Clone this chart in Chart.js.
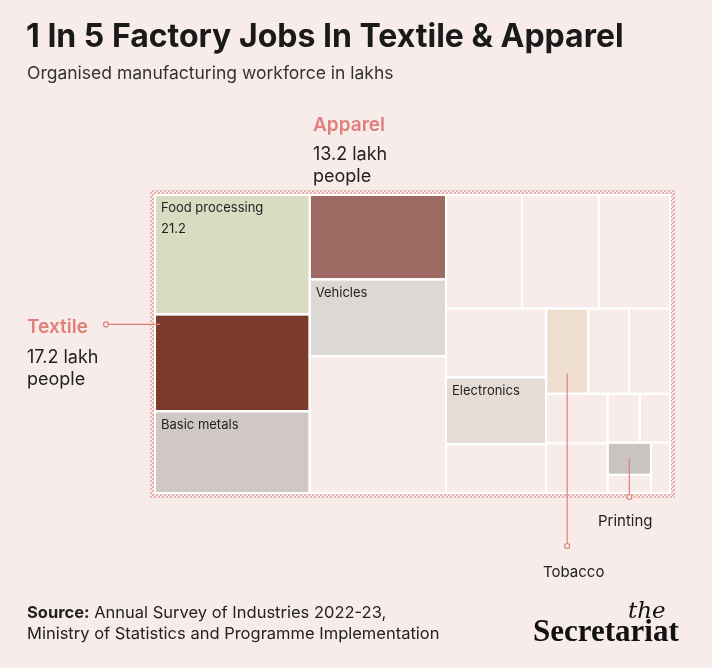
<!DOCTYPE html>
<html><head><meta charset="utf-8">
<script src="https://cdn.jsdelivr.net/npm/chart.js@4"></script>
<style>
html,body{margin:0;padding:0;background:#f8ecea;}
#wrap{position:relative;width:712px;height:668px;font-family:Inter,"Open Sans",sans-serif;color:#1a1a1a;}
.t{position:absolute;white-space:nowrap;}
canvas{position:absolute;left:0;top:0;}
</style></head><body>
<div id="wrap">
<canvas id="c" width="712" height="668"></canvas>
<div class="t" style="left:26px;top:16px;font-size:32px;font-weight:700;letter-spacing:0px;">1 In 5 Factory Jobs In Textile &amp; Apparel</div>
<div class="t" style="left:27px;top:62px;font-size:17.5px;color:#333;">Organised manufacturing workforce in lakhs</div>
<div class="t" style="left:313px;top:113px;font-size:19px;font-weight:600;color:#e0807a;">Apparel</div>
<div class="t" style="left:313px;top:143px;font-size:18px;line-height:22px;color:#222;">13.2 lakh<br>people</div>
<div class="t" style="left:27px;top:315px;font-size:19px;font-weight:600;color:#e0807a;">Textile</div>
<div class="t" style="left:27px;top:346px;font-size:18px;line-height:22px;color:#222;">17.2 lakh<br>people</div>
<div class="t" style="left:543px;top:562px;font-size:15px;color:#222;">Tobacco</div>
<div class="t" style="left:598px;top:511px;font-size:15px;color:#222;">Printing</div>
<div class="t" style="left:27px;top:602px;font-size:16.5px;line-height:21px;color:#222;"><b>Source:</b> Annual Survey of Industries 2022-23,<br>Ministry of Statistics and Programme Implementation</div>
<div class="t" style="left:628px;top:597px;font-family:'DejaVu Serif','Liberation Serif',serif;font-style:italic;font-size:23px;color:#111;">the</div>
<div class="t" style="left:533px;top:613px;font-family:'Liberation Serif','DejaVu Serif',serif;font-weight:bold;font-size:31px;color:#111;">Secretariat</div>
</div>
<script>
// industries (lakh workers); "" = other unlabelled industries
const names  = ["Food processing","Textile","Basic metals","Apparel","Vehicles","","","","","","Electronics","","Tobacco","","","","","","","Printing","",""];
const values = [21.2,17.2,14.5,13.2,12.0,21.4,9.9,10.0,9.3,7.9,7.7,5.6,4.1,4.0,4.0,3.5,3.5,1.8,1.7,1.6,0.9,1.1];
const showValue = [true,false,false,false,false,false,false,false,false,false,false,false,false,false,false,false,false,false,false,false,false,false];
const fills  = ["#d9dcc0","#7a3a2c","#cfc8c5","#9c6a62","#dcd8d6","#f8ecea","#f8ecea","#f8ecea","#f8ecea","#f8ecea","#e6dcd6","#f8ecea","#efdfce","#f8ecea","#f8ecea","#f8ecea","#f8ecea","#f8ecea","#f8ecea","#c9c4c2","#f8ecea","#f8ecea"];
// nesting: h = side by side, v = stacked; leaves are indices into values
const tree = {d:"h",c:[
  {d:"v",c:[0,1,2]},
  {d:"v",c:[3,4,5]},
  {d:"v",c:[
    {d:"h",c:[6,7,8]},
    {d:"h",c:[
      {d:"v",c:[9,10,11]},
      {d:"v",c:[
        {d:"h",c:[12,13,14]},
        {d:"h",c:[
          {d:"v",c:[15,16]},
          {d:"v",c:[
            {d:"h",c:[17,18]},
            {d:"h",c:[{d:"v",c:[19,20]},21]}
          ]}
        ]}
      ]}
    ]}
  ]}
]};
function sum(n){return typeof n==="number"?values[n]:n.c.reduce((a,b)=>a+sum(b),0);}
function layout(n,x0,y0,x1,y1,out){
  if(typeof n==="number"){out[n]=[x0,y0,x1,y1];return;}
  const tot=sum(n);let p=n.d==="h"?x0:y0;
  n.c.forEach(ch=>{const f=sum(ch)/tot;
    if(n.d==="h"){const q=p+(x1-x0)*f;layout(ch,p,y0,q,y1,out);p=q;}
    else{const q=p+(y1-y0)*f;layout(ch,x0,p,x1,q,out);p=q;}});
}
const rects=[];layout(tree,0,0,1,1,rects);

const treemapPlugin={id:"tm",afterDatasetsDraw(chart){
  const {ctx,scales:{x,y}}=chart;
  const X=v=>x.getPixelForValue(v),Y=v=>y.getPixelForValue(v);
  ctx.save();
  rects.forEach((r,i)=>{
    const a=X(r[0])+1,b=Y(r[1])+1,w=X(r[2])-X(r[0])-2,h=Y(r[3])-Y(r[1])-2;
    ctx.fillStyle=fills[i];ctx.fillRect(a,b,w,h);
    ctx.strokeStyle="#ffffff";ctx.lineWidth=2;ctx.strokeRect(a-1,b-1,w+2,h+2);
    if(names[i]&&names[i]!=="Tobacco"&&names[i]!=="Printing"&&names[i]!=="Textile"&&names[i]!=="Apparel"){
      ctx.fillStyle="#1f1f1f";ctx.font="13px Inter, sans-serif";ctx.textBaseline="top";
      ctx.fillText(names[i],a+5,b+6);
      if(showValue[i])ctx.fillText(String(values[i]),a+5,b+27);
    }
  });
  // hatched outer frame
  const L=X(0)-3,T=Y(0)-3,R=X(1)+3,B=Y(1)+3;
  const pc=document.createElement("canvas");pc.width=4;pc.height=4;
  const p=pc.getContext("2d");p.strokeStyle="#e49590";p.lineWidth=1.2;
  p.beginPath();p.moveTo(0,4);p.lineTo(4,0);p.stroke();
  ctx.strokeStyle=ctx.createPattern(pc,"repeat");ctx.lineWidth=4;
  ctx.strokeRect(L,T,R-L,B-T);
  // callouts
  ctx.strokeStyle="#e0807a";ctx.fillStyle="#f8ecea";ctx.lineWidth=1.2;
  const t=rects[1],tb=rects[12],pr=rects[19];
  const ty=Y(t[1])+10;
  ctx.beginPath();ctx.moveTo(108,ty);ctx.lineTo(X(t[0])+5,ty);ctx.stroke();
  ctx.beginPath();ctx.arc(106,ty,2.5,0,7);ctx.fill();ctx.stroke();
  const tx=(X(tb[0])+X(tb[2]))/2;
  ctx.beginPath();ctx.moveTo(tx,Y(tb[3])-20);ctx.lineTo(tx,544);ctx.stroke();
  ctx.beginPath();ctx.arc(tx,546,2.5,0,7);ctx.fill();ctx.stroke();
  const px=(X(pr[0])+X(pr[2]))/2;
  ctx.beginPath();ctx.moveTo(px,(Y(pr[1])+Y(pr[3]))/2);ctx.lineTo(px,495);ctx.stroke();
  ctx.beginPath();ctx.arc(px,497,2.5,0,7);ctx.fill();ctx.stroke();
  ctx.restore();
}};
new Chart(document.getElementById("c"),{
  type:"scatter",
  data:{datasets:[{data:[]}]},
  options:{responsive:false,animation:false,
    layout:{padding:{left:155,right:42,top:195,bottom:175}},
    plugins:{legend:{display:false},tooltip:{enabled:false}},
    scales:{x:{type:"linear",min:0,max:1,display:false},y:{type:"linear",min:0,max:1,reverse:true,display:false}}},
  plugins:[treemapPlugin]
});
</script></body></html>
